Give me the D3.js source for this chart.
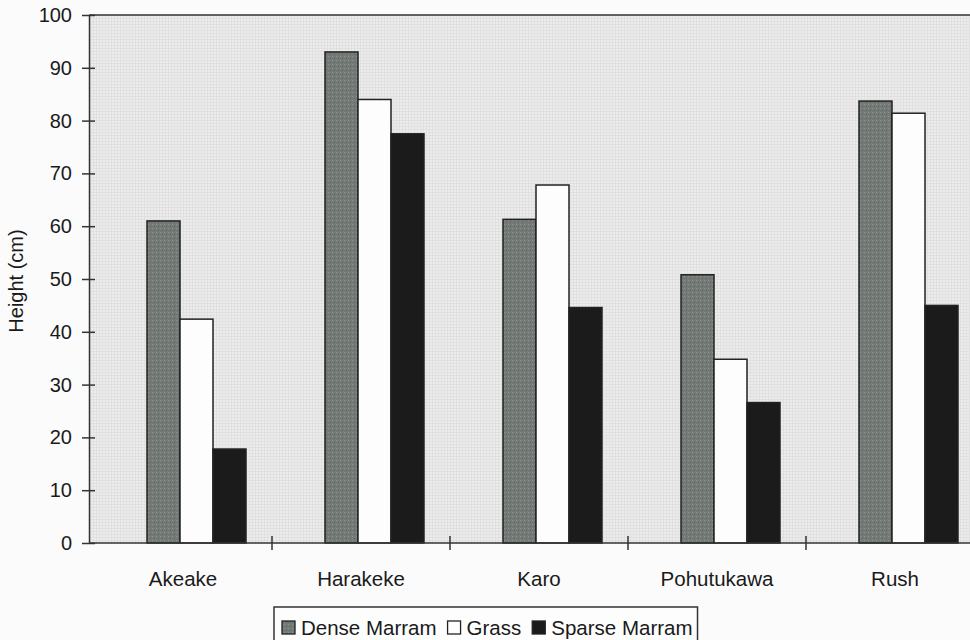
<!DOCTYPE html>
<html><head><meta charset="utf-8">
<script src="https://cdn.jsdelivr.net/npm/d3@7"></script>
<style>
html,body{margin:0;padding:0;background:#fbfbfb;}
svg{display:block;font-family:"Liberation Sans",Arial,sans-serif;}
</style></head>
<body><svg id="c" width="970" height="640"></svg>
<script>
const categories = ["Akeake","Harakeke","Karo","Pohutukawa","Rush"];
const seriesNames = ["Dense Marram","Grass","Sparse Marram"];
const denseMarram = [61, 93, 61.3, 50.8, 83.7];
const grass = [42.4, 84, 67.8, 34.8, 81.4];
const sparseMarram = [17.8, 77.5, 44.6, 26.6, 45];
const yTicks = [0,10,20,30,40,50,60,70,80,90,100];
const seriesColors = ["#747b77","#fdfdfd","#1b1b1b"];

const values = [denseMarram, grass, sparseMarram];
const svg = d3.select("#c");
const plotLeft = 89, plotTop = 15, plotBottom = 543;

const defs = svg.append("defs");
const pat = defs.append("pattern").attr("id","grid").attr("width",3).attr("height",3).attr("patternUnits","userSpaceOnUse");
pat.append("rect").attr("width",3).attr("height",3).attr("fill","#ececec");
pat.append("path").attr("d","M0,0.5H3M0.5,0V3").attr("stroke","#dcdcdc").attr("stroke-width",0.7);
const pat2 = defs.append("pattern").attr("id","mott").attr("width",4).attr("height",4).attr("patternUnits","userSpaceOnUse");
pat2.append("rect").attr("width",4).attr("height",4).attr("fill",seriesColors[0]);
pat2.append("rect").attr("x",0).attr("y",0).attr("width",1).attr("height",1).attr("fill","#8d938f");
pat2.append("rect").attr("x",2).attr("y",2).attr("width",1).attr("height",1).attr("fill","#5f6662");

const y = d3.scaleLinear().domain([0,100]).range([plotBottom, plotTop]);
const x = d3.scaleBand().domain(categories).range([94, 984]).padding(0);
const xs = d3.scaleBand().domain(seriesNames).range([53, 152]).padding(0);

svg.append("rect").attr("x",plotLeft).attr("y",plotTop).attr("width",970-plotLeft).attr("height",plotBottom-plotTop).attr("fill","url(#grid)");
svg.append("line").attr("x1",plotLeft).attr("x2",970).attr("y1",plotTop).attr("y2",plotTop).attr("stroke","#333").attr("stroke-width",1.5);

const g = svg.append("g");
seriesNames.forEach((s,si)=>{
  g.selectAll(null).data(categories).enter().append("rect")
    .attr("x",c=>x(c)+xs(s))
    .attr("y",(c,i)=>y(values[si][i]))
    .attr("width",xs.bandwidth())
    .attr("height",(c,i)=>plotBottom-y(values[si][i]))
    .attr("fill", si===0 ? "url(#mott)" : seriesColors[si])
    .attr("stroke","#222").attr("stroke-width",1.5);
});

// y axis
const ya = svg.append("g").attr("transform",`translate(${plotLeft},0)`)
  .call(d3.axisLeft(y).tickValues(yTicks).tickSizeInner(6).tickSizeOuter(0).tickPadding(10));
ya.select(".domain").attr("stroke","#333").attr("stroke-width",1.5);
ya.selectAll(".tick line").attr("stroke","#333").attr("stroke-width",1.5).attr("x2",-7).attr("x1",6);
ya.selectAll(".tick text").attr("font-size",20).attr("fill","#1a1a1a").attr("x",-17).attr("font-family","Liberation Sans, Arial, sans-serif");

// x axis
const xa = svg.append("g").attr("transform",`translate(0,${plotBottom})`)
  .call(d3.axisBottom(x).tickSize(0).tickPadding(28));
xa.select(".domain").remove();
svg.append("line").attr("x1",plotLeft).attr("x2",970).attr("y1",plotBottom).attr("y2",plotBottom).attr("stroke","#333").attr("stroke-width",1.5);
xa.selectAll(".tick text").attr("font-size",20.5).attr("fill","#1a1a1a").attr("font-family","Liberation Sans, Arial, sans-serif");
svg.append("g").selectAll("line").data(categories.slice(1)).enter().append("line")
  .attr("x1",c=>x(c)).attr("x2",c=>x(c)).attr("y1",plotBottom-7).attr("y2",plotBottom+7)
  .attr("stroke","#333").attr("stroke-width",1.5);

// y title
svg.append("text").attr("transform","translate(23,281) rotate(-90)").attr("text-anchor","middle")
  .attr("font-size",20).attr("fill","#1a1a1a").text("Height (cm)");

// legend
const lg = svg.append("g");
const box = lg.append("rect").attr("x",274).attr("y",607).attr("height",45)
  .attr("fill","#fdfdfd").attr("stroke","#333").attr("stroke-width",1.5);
let lx = 282;
seriesNames.forEach((s,si)=>{
  lg.append("rect").attr("x",lx).attr("y",621).attr("width",13).attr("height",13)
    .attr("fill", si===0 ? "url(#mott)" : seriesColors[si]).attr("stroke","#222").attr("stroke-width",1.3);
  const t = lg.append("text").attr("x",lx+19).attr("y",635).attr("font-size",20.5).attr("fill","#1a1a1a").text(s);
  const end = lx + 19 + t.node().getComputedTextLength();
  box.attr("width", end + 5 - 274);
  lx = end + 11;
});
</script></body></html>
